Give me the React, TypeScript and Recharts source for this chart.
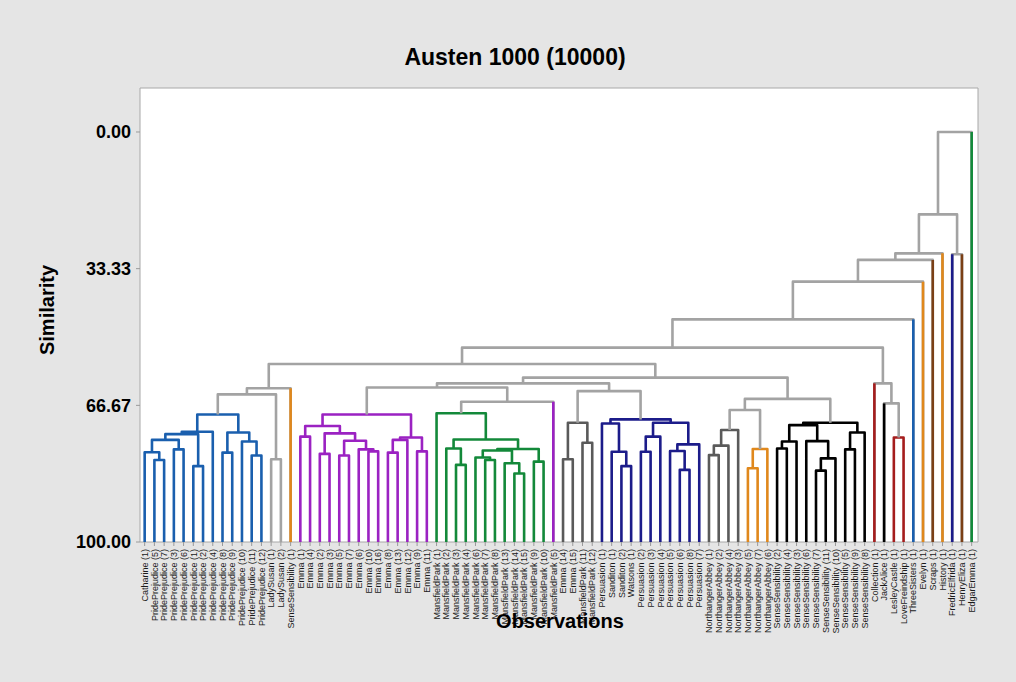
import React from "react";
import { ComposedChart, Line, XAxis, YAxis, ReferenceArea } from "recharts";

// Leaves in dendrogram order
const leafNames = [
  "Catharine (1)", "PridePrejudice (5)", "PridePrejudice (7)", "PridePrejudice (3)", "PridePrejudice (6)",
  "PridePrejudice (1)", "PridePrejudice (2)", "PridePrejudice (4)", "PridePrejudice (8)", "PridePrejudice (9)",
  "PridePrejudice (10)", "PridePrejudice (11)", "PridePrejudice (12)", "LadySusan (1)", "LadySusan (2)",
  "SenseSensibility (1)", "Emma (1)", "Emma (4)", "Emma (2)", "Emma (3)", "Emma (5)", "Emma (7)", "Emma (6)",
  "Emma (10)", "Emma (16)", "Emma (8)", "Emma (13)", "Emma (12)", "Emma (9)", "Emma (11)",
  "MansfieldPark (1)", "MansfieldPark (2)", "MansfieldPark (3)", "MansfieldPark (4)", "MansfieldPark (6)",
  "MansfieldPark (7)", "MansfieldPark (8)", "MansfieldPark (13)", "MansfieldPark (14)", "MansfieldPark (15)",
  "MansfieldPark (9)", "MansfieldPark (10)", "MansfieldPark (5)", "Emma (14)", "Emma (15)",
  "MansfieldPark (11)", "MansfieldPark (12)", "Persuasion (1)", "Sanditon (1)", "Sanditon (2)", "Watsons (1)",
  "Persuasion (2)", "Persuasion (3)", "Persuasion (4)", "Persuasion (5)", "Persuasion (6)", "Persuasion (8)",
  "Persuasion (7)", "NorthangerAbbey (1)", "NorthangerAbbey (2)", "NorthangerAbbey (4)", "NorthangerAbbey (3)",
  "NorthangerAbbey (5)", "NorthangerAbbey (7)", "NorthangerAbbey (6)", "SenseSensibility (2)",
  "SenseSensibility (4)", "SenseSensibility (3)", "SenseSensibility (6)", "SenseSensibility (7)",
  "SenseSensibility (11)", "SenseSensibility (10)", "SenseSensibility (5)", "SenseSensibility (9)",
  "SenseSensibility (8)", "Collection (1)", "JackAlice (1)", "LesleyCastle (1)", "LoveFreindship (1)",
  "ThreeSisters (1)", "Evelyn (1)", "Scraps (1)", "History (1)", "FredricElfrida (1)", "HenryEliza (1)",
  "EdgarEmma (1)",
];

// Final partition: first and last leaf of each cluster
const clusterRanges: [number, number][] = [
  [0, 12], [13, 14], [15, 15], [16, 29], [30, 41], [42, 42], [43, 46], [47, 57], [58, 61], [62, 64],
  [65, 74], [75, 75], [76, 76], [77, 78], [79, 79], [80, 80], [81, 81], [82, 82], [83, 83], [84, 84], [85, 85],
];

// Merge steps: [id, left, right, similarity]; numbers are leaves, strings earlier merges
const linkage: [string, number | string, number | string, number][] = [
  ["b1", 1, 2, 80.0], ["b2", 0, "b1", 78.1], ["b3", 3, 4, 77.4], ["b4", "b2", "b3", 75.1],
  ["b5", 5, 6, 81.5], ["b6", "b4", "b5", 73.7], ["b7", "b6", 7, 73.1], ["b8", 8, 9, 78.2],
  ["b9", 11, 12, 78.9], ["b10", 10, "b9", 75.5], ["b11", "b8", "b10", 73.3], ["b12", "b7", "b11", 68.9],
  ["ls", 13, 14, 79.8], ["A", "b12", "ls", 64.0], ["B", "A", 15, 62.5],

  ["e1", 16, 17, 74.3], ["e2", 18, 19, 78.5], ["e3", 20, 21, 78.9], ["e4", 23, 24, 77.9],
  ["e5", 22, "e4", 77.4], ["e6", "e3", "e5", 75.3], ["e7", "e2", "e6", 73.5], ["e8", "e1", "e7", 71.7],
  ["e9", 25, 26, 78.2], ["e10", "e9", 27, 75.1], ["e11", 28, 29, 77.9], ["e12", "e10", "e11", 74.5],
  ["e13", "e8", "e12", 68.9],

  ["m1", 32, 33, 81.2], ["m2", 31, "m1", 77.2], ["m3", 35, 36, 80.0], ["m4", 34, "m3", 79.4],
  ["m5", 38, 39, 83.3], ["m6", 37, "m5", 80.8], ["m7", "m4", "m6", 77.7], ["m8", 40, 41, 80.4],
  ["m9", "m7", "m8", 77.3], ["m10", "m2", "m9", 75.0], ["m11", 30, "m10", 68.6], ["m12", "m11", 42, 65.8],
  ["C", "e13", "m12", 62.3],

  ["g1", 43, 44, 79.8], ["g2", 45, 46, 75.8], ["g3", "g1", "g2", 70.9],
  ["p1", 49, 50, 81.5], ["p2", 48, "p1", 78.0], ["p3", 47, "p2", 71.1], ["p4", 51, 52, 78.0],
  ["p5", "p4", 53, 74.3], ["p6", 55, 56, 82.4], ["p7", 54, "p6", 77.8], ["p8", "p7", 57, 76.2],
  ["p9", "p5", "p8", 70.9], ["p10", "p3", "p9", 70.1], ["D", "g3", "p10", 63.2], ["E", "C", "D", 61.3],

  ["n1", 58, 59, 78.8], ["n2", "n1", 60, 76.5], ["n3", "n2", 61, 72.7], ["n4", 62, 63, 82.0],
  ["n5", "n4", 64, 77.3], ["n6", "n3", "n5", 67.8],
  ["s1", 65, 66, 77.2], ["s2", "s1", 67, 75.5], ["s3", 69, 70, 82.6], ["s4", "s3", 71, 79.6],
  ["s5", 68, "s4", 75.4], ["s6", "s2", "s5", 71.5], ["s7", 72, 73, 77.4], ["s8", "s7", 74, 73.3],
  ["s9", "s6", "s8", 70.9], ["F", "n6", "s9", 65.1], ["G", "E", "F", 59.9], ["H", "B", "G", 56.6],

  ["j1", 77, 78, 74.5], ["j2", 76, "j1", 66.2], ["j3", 75, "j2", 61.3], ["I", "H", "j3", 52.6],
  ["J", "I", 79, 45.7], ["K", "J", 80, 36.5], ["L", "K", 81, 31.2], ["M", "L", 82, 29.6],
  ["N", 83, 84, 29.8], ["O", "M", "N", 20.1], ["P", "O", 85, 0.0],
];

const similarityTicks = [0, 33.33, 66.67, 100];

// Colours
const LINK_GRAY = "#a3a3a3";
const BLUE = "#1a5fae";
const ORANGE = "#e0881c";
const PURPLE = "#9b22c2";
const GREEN = "#13893a";
const DARK_GRAY = "#5a5a5a";
const NAVY = "#1c1c8a";
const BLACK = "#000000";
const RED = "#a51d1d";
const BROWN = "#7a3f16";
const clusterColors = [
  BLUE, LINK_GRAY, ORANGE, PURPLE, GREEN, PURPLE, DARK_GRAY, NAVY, DARK_GRAY, ORANGE,
  BLACK, RED, BLACK, RED, BLUE, ORANGE, BROWN, ORANGE, NAVY, BROWN, GREEN,
];

const FONT = "'Liberation Sans', Arial, sans-serif";
const X_DOMAIN: [number, number] = [-0.48, 85.65];
const Y_DOMAIN: [number, number] = [-10.73, 100];

type Node = { x: number; s: number; lo: number; hi: number };
type Pt = { x: number; s: number };

const clusterOf = (leaf: number) => clusterRanges.findIndex(([a, b]) => leaf >= a && leaf <= b);

function buildLinks() {
  const nodes: Record<string, Node> = {};
  const get = (ref: number | string): Node =>
    typeof ref === "number" ? { x: ref, s: 100, lo: ref, hi: ref } : nodes[ref];
  const links: { id: string; color: string; points: Pt[] }[] = [];
  const legs: { id: string; color: string; points: Pt[] }[] = [];
  linkage.forEach(([id, a, b, s]) => {
    const l = get(a);
    const r = get(b);
    const node = { x: (l.x + r.x) / 2, s, lo: Math.min(l.lo, r.lo), hi: Math.max(l.hi, r.hi) };
    nodes[id] = node;
    const c0 = clusterOf(node.lo);
    const color = c0 === clusterOf(node.hi) ? clusterColors[c0] : LINK_GRAY;
    links.push({
      id,
      color,
      points: [{ x: l.x, s: l.s }, { x: l.x, s }, { x: r.x, s }, { x: r.x, s: r.s }],
    });
    // singleton leaves keep their own colour up to the join
    [a, b].forEach((ref, k) => {
      if (typeof ref !== "number") return;
      const lc = clusterColors[clusterOf(ref)];
      if (lc !== color) legs.push({ id: `${id}-${k}`, color: lc, points: [{ x: ref, s: 100 }, { x: ref, s }] });
    });
  });
  return { links, legs };
}

const { links, legs } = buildLinks();

function LeafTick(props: any) {
  const { x, y, payload } = props;
  return (
    <text
      transform={`translate(${x + 3.2},${y + 1}) rotate(-90)`}
      textAnchor="end"
      fontSize={9}
      fontFamily={FONT}
      fill="#1a1a1a"
    >
      {leafNames[payload.value]}
    </text>
  );
}

export default function App() {
  return (
    <div
      style={{
        position: "absolute",
        left: 0,
        top: 0,
        width: 1016,
        height: 682,
        background: "#e5e5e5",
        fontFamily: FONT,
      }}
    >
      <ComposedChart width={1016} height={682} margin={{ top: 88, right: 38, bottom: 40, left: 30 }}>
        <ReferenceArea
          x1={X_DOMAIN[0]}
          x2={X_DOMAIN[1]}
          y1={Y_DOMAIN[0]}
          y2={Y_DOMAIN[1]}
          fill="#ffffff"
          fillOpacity={1}
          stroke="#a8a8a8"
          strokeWidth={1}
        />
        <XAxis
          type="number"
          dataKey="x"
          domain={X_DOMAIN}
          allowDataOverflow
          ticks={leafNames.map((_, i) => i)}
          interval={0}
          tick={LeafTick}
          tickSize={4}
          tickLine={{ stroke: "#9a9a9a" }}
          axisLine={false}
          height={100}
        />
        <YAxis
          type="number"
          dataKey="s"
          reversed
          domain={Y_DOMAIN}
          allowDataOverflow
          ticks={similarityTicks}
          interval={0}
          tickFormatter={(v: number) => v.toFixed(2)}
          tick={{ fontSize: 18, fontWeight: 700, fill: "#000", fontFamily: FONT }}
          tickSize={4}
          tickMargin={5}
          tickLine={{ stroke: "#9a9a9a" }}
          axisLine={false}
          width={110}
        />
        {links.map((l) => (
          <Line
            key={l.id}
            data={l.points}
            dataKey="s"
            type="linear"
            stroke={l.color}
            strokeWidth={2.6}
            strokeLinejoin="round"
            dot={false}
            activeDot={false}
            isAnimationActive={false}
          />
        ))}
        {legs.map((l) => (
          <Line
            key={l.id}
            data={l.points}
            dataKey="s"
            type="linear"
            stroke={l.color}
            strokeWidth={2.6}
            dot={false}
            activeDot={false}
            isAnimationActive={false}
          />
        ))}
      </ComposedChart>
      <div
        style={{
          position: "absolute",
          left: 215,
          top: 44,
          width: 600,
          textAlign: "center",
          fontSize: 23,
          fontWeight: 700,
          lineHeight: "26px",
        }}
      >
        Austen 1000 (10000)
      </div>
      <div
        style={{
          position: "absolute",
          left: -53,
          top: 297,
          width: 200,
          height: 26,
          lineHeight: "26px",
          textAlign: "center",
          fontSize: 20,
          fontWeight: 700,
          transform: "rotate(-90deg)",
        }}
      >
        Similarity
      </div>
      <div
        style={{
          position: "absolute",
          left: 460,
          top: 608,
          width: 200,
          textAlign: "center",
          fontSize: 20,
          fontWeight: 700,
          lineHeight: "26px",
        }}
      >
        Observations
      </div>
    </div>
  );
}
